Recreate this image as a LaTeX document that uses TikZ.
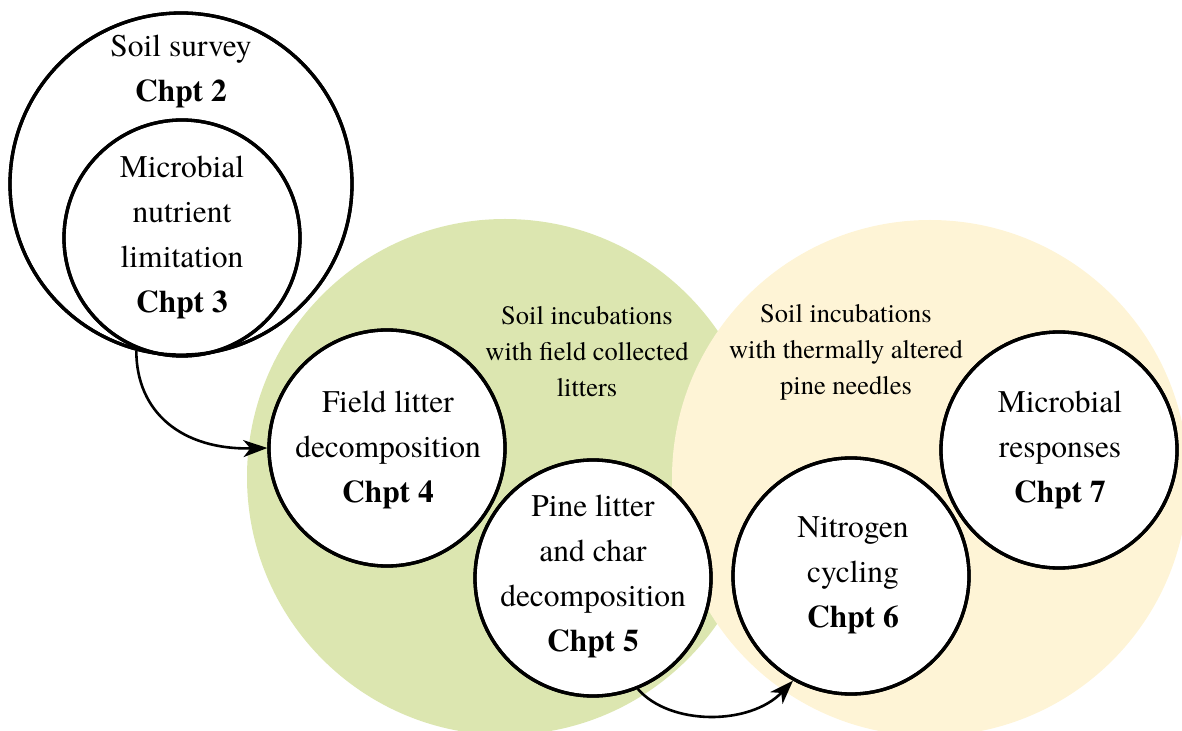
\documentclass[tikz,border=0pt]{standalone}
\usepackage{fontspec}
\setmainfont{texgyretermes}[Extension=.otf, UprightFont=*-regular, BoldFont=*-bold, ItalicFont=*-italic, BoldItalicFont=*-bolditalic]
\usetikzlibrary{arrows.meta}
\definecolor{fieldgreen}{HTML}{DCE6B0}
\definecolor{thermyellow}{HTML}{FEF4D6}
\begin{document}
\begin{tikzpicture}[x=0.5pt,y=-0.5pt,
  chap/.style={circle, draw=black, line width=1.65pt, fill=white, inner sep=0pt,
    minimum size=118pt},
  zone/.style={circle, inner sep=0pt, minimum size=258pt},
  zonetext/.style={align=center, font=\fontsize{13.25}{18}\selectfont},
  bigtext/.style={align=center, font=\fontsize{15.75}{22.5}\selectfont},
  flow/.style={line width=1.3pt, -{Stealth[length=12pt,width=8.5pt,inset=3.5pt]}},
  ring/.style={draw=black, line width=1.65pt}]
\useasboundingbox (0,0) rectangle (1182,731);
% background zones
\node[zone, fill=fieldgreen] (gz) at (505,477) {};
\node[zone, fill=thermyellow] (yz) at (930,478) {};
% soil survey circles
\node[chap, minimum size=171pt] (c2) at (181,184) {};
\node[chap] (c3) at (182,238) {};
% chapter circles
\node[chap] (c4) at (387,448) {};
\node[chap] (c5) at (593,578) {};
\node[chap] (c6) at (851,576) {};
\node[chap] (c7) at (1059,450) {};
% outlines on top so that crossings show
\draw[ring] (c2.center) circle[radius=85.5pt];
\draw[ring] (c3.center) circle[radius=59pt];
\foreach \n in {c4,c5,c6,c7} \draw[ring] (\n.center) circle[radius=59pt];
% circle texts
\node[bigtext] (t2) at (181,71) {Soil survey\\\textbf{Chpt 2}};
\node[bigtext] (t3) at (182,237) {Microbial\\nutrient\\limitation\\\textbf{Chpt 3}};
\node[bigtext] (t4) at (388,450) {Field litter\\decomposition\\\textbf{Chpt 4}};
\node[bigtext] (t5) at (593,576) {Pine litter\\and char\\decomposition\\\textbf{Chpt 5}};
\node[bigtext] (t6) at (853,575) {Nitrogen\\cycling\\\textbf{Chpt 6}};
\node[bigtext] (t7) at (1060,450) {Microbial\\responses\\\textbf{Chpt 7}};
% zone labels
\node[zonetext] (gt) at (587,352) {Soil incubations\\with field collected\\litters};
\node[zonetext] (yt) at (846,352) {Soil incubations\\with thermally altered\\pine needles};
% connectors
\draw[flow] (c2.255) .. controls +(0,62) and +(-85,2) .. (c4.west);
\draw[flow] (c5.292) .. controls +(32,37) and +(-43,45) .. (c6.241);
\end{tikzpicture}
\end{document}
